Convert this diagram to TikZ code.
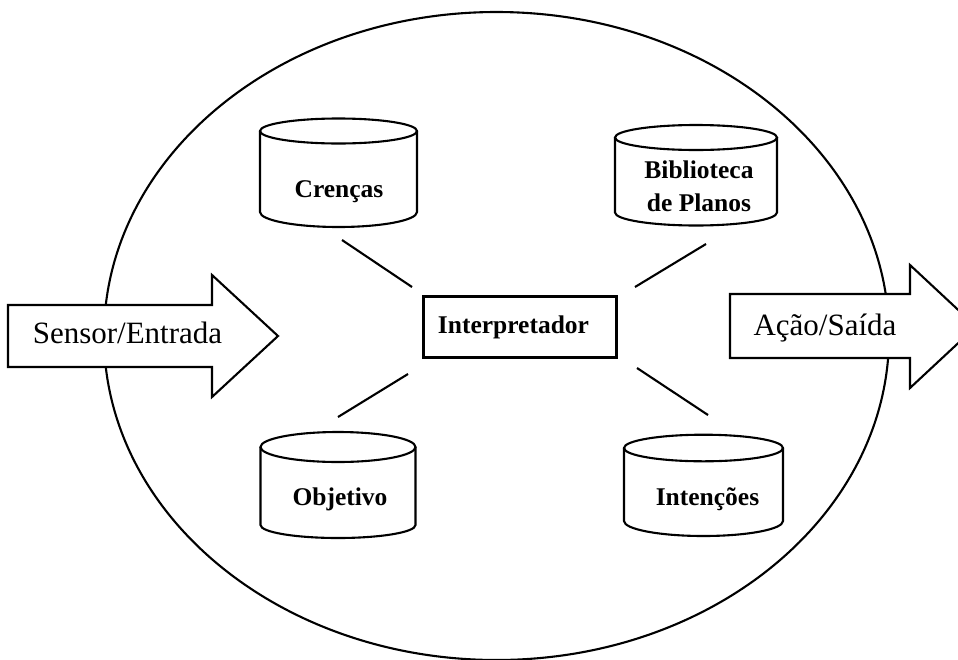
\documentclass[tikz,border=0pt]{standalone}
\usepackage{fontspec}
\setmainfont{Liberation Serif}
% cylinder: {cx}{top centre y}{rx}{ry top}{height}{ry bottom}
\newcommand{\dbcyl}[6]{%
  \begin{scope}[shift={(#1,#2)}]
    \draw[ln] (0,0) ellipse [x radius=#3pt, y radius=#4pt];
    \draw[ln] (-#3,0) -- (-#3,#5)
      arc[start angle=180, end angle=360, x radius=#3pt, y radius=#6pt]
      -- (#3,0);
  \end{scope}}
\begin{document}
\begin{tikzpicture}[x=1pt,y=-1pt,
  ln/.style={line width=2.1pt, line join=miter},
  bigarrow/.style={ln, draw, fill=white},
  boldlbl/.style={font=\bfseries\fontsize{25.5}{33}\selectfont, inner sep=0pt, align=center},
  arrowlbl/.style={font=\fontsize{31}{36}\selectfont, inner sep=0pt},
  boxnode/.style={ln, draw, minimum width=193pt, minimum height=61pt, inner sep=0pt}]
\useasboundingbox (0,0) rectangle (958,659);
\clip (0,0) rectangle (958,659);
\fill[white] (0,0) rectangle (958,659);

% outer agent ellipse
\draw[ln] (496.5,336) ellipse [x radius=392.5pt, y radius=324pt];

% data stores
\dbcyl{338.5}{131}{78.5}{12.5}{81}{15}
\dbcyl{696}{137.5}{81}{12.5}{75}{13}
\dbcyl{338}{447}{77.5}{15}{78}{13}
\dbcyl{703.5}{448}{79.5}{13.3}{73}{15}

\node[boldlbl, anchor=base] (crencas) at (339,197) {Crenças};
\node[boldlbl] (biblio) at (699,186) {Biblioteca\\de Planos};
\node[boldlbl, anchor=base] (objetivo) at (340,505) {Objetivo};
\node[boldlbl, anchor=base] (intencoes) at (707.5,505) {Intenções};

% interpreter
\node[boxnode] (interp) at (520,327) {};
\node[boldlbl, anchor=base] (interplbl) at (513.5,333) {Interpretador};

% connector segments
\coordinate (c1a) at (342,240); \coordinate (c1b) at (412,287);
\coordinate (c2a) at (706,244); \coordinate (c2b) at (635,287);
\coordinate (c3a) at (408,374); \coordinate (c3b) at (338,417);
\coordinate (c4a) at (637,368); \coordinate (c4b) at (708,415);
\draw[ln] (c1a) -- (c1b);
\draw[ln] (c2a) -- (c2b);
\draw[ln] (c3a) -- (c3b);
\draw[ln] (c4a) -- (c4b);

% input / output arrows
\draw[bigarrow] (8,305) -- (212,305) -- (212,275) -- (278,336) -- (212,397) -- (212,367) -- (8,367) -- cycle;
\node[arrowlbl, anchor=base] (sensor) at (127.5,343) {Sensor/Entrada};

\draw[bigarrow] (730,294) -- (910,294) -- (910,265) -- (976,326.5) -- (910,388) -- (910,358) -- (730,358) -- cycle;
\node[arrowlbl, anchor=base] (acao) at (825,335) {Ação/Saída};
\end{tikzpicture}
\end{document}
